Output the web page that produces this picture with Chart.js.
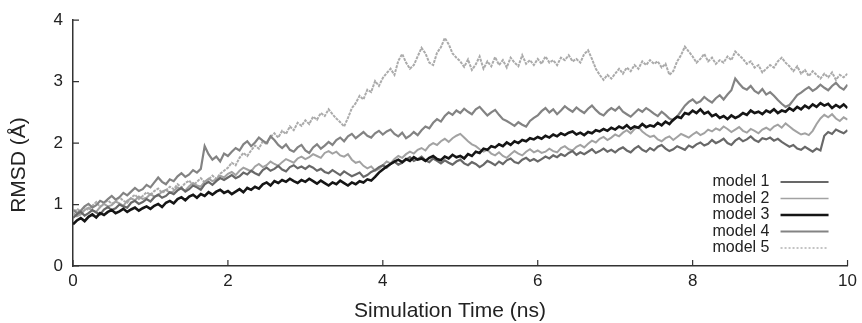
<!DOCTYPE html>
<html lang="en">
<head>
    <meta charset="UTF-8">
    <title>RMSD vs Simulation Time</title>
    <script src="https://cdn.jsdelivr.net/npm/chart.js"></script>
    <style>
        body {
            margin: 0;
            background: #fff;
        }
        .chart-box {
            width: 862px;
            height: 323px;
        }
    </style>
</head>
<body>
    <div class="chart-box">
        <canvas id="rmsdChart" width="862" height="323"></canvas>
    </div>
    <script>
        // sampling grid: every 0.05 ns from 0 to 10 ns
        const times = Array.from({ length: 201 }, (_, i) => +(i * 0.05).toFixed(2));
        const xTicks = [0, 2, 4, 6, 8, 10];
        const yTicks = [0, 1, 2, 3, 4];
        const modelNames = ['model 1', 'model 2', 'model 3', 'model 4', 'model 5'];

        // values (RMSD in Å), one row per ns
        const model1 = [
            0.78, 0.84, 0.88, 0.82, 0.86, 0.91, 0.87, 0.84, 0.92, 0.96, 0.91, 0.94, 1.00, 0.97, 0.95, 1.03, 1.06, 1.01, 1.04, 1.09,
            1.05, 1.12, 1.16, 1.11, 1.14, 1.20, 1.17, 1.23, 1.27, 1.21, 1.25, 1.31, 1.28, 1.24, 1.33, 1.37, 1.32, 1.38, 1.43, 1.40,
            1.44, 1.48, 1.43, 1.46, 1.52, 1.49, 1.55, 1.51, 1.48, 1.56, 1.60, 1.55, 1.58, 1.63, 1.57, 1.54, 1.61, 1.64, 1.59, 1.62,
            1.58, 1.63, 1.60, 1.55, 1.58, 1.53, 1.51, 1.56, 1.52, 1.48, 1.54, 1.50, 1.46, 1.49, 1.52, 1.45, 1.48, 1.53, 1.56, 1.61,
            1.64, 1.60, 1.66, 1.70, 1.65, 1.68, 1.73, 1.77, 1.71, 1.74, 1.78, 1.72, 1.69, 1.75, 1.71, 1.67, 1.72, 1.68, 1.65, 1.70,
            1.73, 1.67, 1.64, 1.69, 1.66, 1.61, 1.65, 1.71, 1.68, 1.64, 1.70, 1.66, 1.72, 1.75, 1.69, 1.67, 1.73, 1.76, 1.71, 1.74,
            1.70, 1.74, 1.78, 1.75, 1.80, 1.77, 1.82, 1.79, 1.84, 1.87, 1.81, 1.85, 1.82, 1.86, 1.90, 1.84, 1.87, 1.91, 1.86, 1.89,
            1.85, 1.90, 1.93, 1.88, 1.85, 1.91, 1.95, 1.89, 1.86, 1.92, 1.88, 1.94, 1.97, 1.91, 1.87, 1.90, 1.95, 1.92, 1.89, 1.96,
            1.93, 1.98, 2.01, 1.96, 1.99, 2.05, 2.00, 2.03, 2.07, 2.00, 1.97, 2.04, 2.08, 2.03, 2.06, 2.11, 2.05, 2.02, 2.08, 2.06,
            2.09, 2.04, 2.07, 2.02, 1.98, 1.94, 1.97, 1.91, 1.89, 1.94, 1.90, 1.86, 1.91, 1.88, 2.12, 2.18, 2.15, 2.22, 2.19, 2.16, 2.21
        ];
        const model2 = [
            0.86, 0.81, 0.84, 0.91, 0.95, 0.90, 0.88, 0.96, 1.01, 0.97, 0.99, 1.05, 1.02, 0.98, 1.06, 1.10, 1.07, 1.13, 1.09, 1.11,
            1.17, 1.13, 1.15, 1.21, 1.24, 1.19, 1.22, 1.28, 1.25, 1.23, 1.30, 1.35, 1.31, 1.29, 1.37, 1.42, 1.38, 1.41, 1.47, 1.44,
            1.50, 1.53, 1.48, 1.55, 1.60, 1.57, 1.54, 1.62, 1.66, 1.61, 1.64, 1.70, 1.66, 1.63, 1.69, 1.74, 1.71, 1.68, 1.75, 1.78,
            1.74, 1.77, 1.82, 1.79, 1.76, 1.84, 1.87, 1.83, 1.86, 1.80, 1.78, 1.82, 1.73, 1.68, 1.70, 1.63, 1.59, 1.62, 1.55, 1.58,
            1.64, 1.70, 1.67, 1.74, 1.79, 1.76, 1.82, 1.86, 1.83, 1.89, 1.92, 1.88, 1.96, 2.00, 1.97, 2.03, 2.07, 2.02, 2.08, 2.12,
            2.15, 2.09, 2.03, 1.98, 1.95, 1.90, 1.86, 1.89, 1.83, 1.80, 1.85, 1.79, 1.76, 1.82, 1.87, 1.83, 1.80, 1.86, 1.90, 1.85,
            1.88, 1.84, 1.86, 1.91, 1.87, 1.85, 1.92, 1.95, 1.90, 1.88, 1.94, 1.97, 1.93, 1.99, 2.04, 2.01, 2.07, 2.10, 2.05, 2.09,
            2.14, 2.11, 2.17, 2.21, 2.16, 2.23, 2.26, 2.19, 2.14, 2.10, 2.12, 2.06, 2.03, 2.08, 2.11, 2.05, 2.10, 2.15, 2.12, 2.09,
            2.14, 2.18, 2.13, 2.16, 2.22, 2.19, 2.24, 2.21, 2.27, 2.23, 2.18, 2.22, 2.26, 2.20, 2.17, 2.23, 2.20, 2.16, 2.22, 2.25,
            2.21, 2.27, 2.30, 2.25, 2.32, 2.27, 2.22, 2.18, 2.14, 2.16, 2.13, 2.20, 2.31, 2.40, 2.46, 2.42, 2.47, 2.40, 2.36, 2.42, 2.38
        ];
        const model3 = [
            0.68, 0.74, 0.78, 0.73, 0.80, 0.84, 0.79, 0.86, 0.83, 0.88, 0.91, 0.86, 0.89, 0.93, 0.88, 0.92, 0.95, 0.90, 0.94, 0.97,
            0.93, 0.98, 1.01, 0.96, 1.03, 1.06, 1.02, 1.09, 1.12, 1.07, 1.13, 1.16, 1.11, 1.17, 1.14, 1.20, 1.16, 1.21, 1.24, 1.19,
            1.22, 1.17, 1.21, 1.25, 1.20, 1.27, 1.24, 1.29, 1.26, 1.33, 1.36, 1.31, 1.38, 1.35, 1.40, 1.37, 1.42, 1.38, 1.35, 1.40,
            1.37, 1.42, 1.38, 1.34, 1.39, 1.35, 1.31, 1.36, 1.33, 1.39, 1.35, 1.31, 1.36, 1.33, 1.38, 1.36, 1.41, 1.39, 1.45, 1.52,
            1.57, 1.62, 1.66, 1.70, 1.73, 1.69, 1.74, 1.71, 1.77, 1.73, 1.75, 1.71, 1.76, 1.79, 1.74, 1.72, 1.78, 1.75, 1.81, 1.77,
            1.79, 1.75, 1.82, 1.79, 1.86, 1.84, 1.91, 1.89, 1.95, 1.93, 1.98, 1.95, 2.01, 1.97, 2.03, 2.00, 2.05, 2.03, 2.08, 2.06,
            2.10, 2.07, 2.12, 2.09, 2.14, 2.11, 2.16, 2.13, 2.17, 2.19, 2.14, 2.17, 2.13, 2.18, 2.16, 2.21, 2.19, 2.23, 2.20, 2.25,
            2.22, 2.27, 2.24, 2.29, 2.23, 2.27, 2.25, 2.31, 2.26, 2.29, 2.27, 2.33, 2.29, 2.35, 2.31, 2.38, 2.43, 2.41, 2.49, 2.47,
            2.53, 2.49, 2.55, 2.48, 2.51, 2.44, 2.47, 2.41, 2.44, 2.39, 2.45, 2.41, 2.44, 2.49, 2.46, 2.53, 2.49, 2.51, 2.47, 2.53,
            2.50, 2.55, 2.49, 2.53, 2.51, 2.57, 2.53, 2.59, 2.55, 2.61, 2.57, 2.63, 2.59, 2.65, 2.61, 2.64, 2.57, 2.62, 2.58, 2.63, 2.57
        ];
        const model4 = [
            0.92, 0.86, 0.90, 0.97, 1.01, 0.95, 0.99, 1.06, 1.03, 1.09, 1.14, 1.08, 1.12, 1.19, 1.15, 1.21, 1.27, 1.22, 1.25, 1.32,
            1.28, 1.36, 1.44, 1.37, 1.33, 1.41, 1.38, 1.46, 1.51, 1.45, 1.49, 1.56, 1.52, 1.58, 1.95, 1.82, 1.73, 1.78, 1.70, 1.83,
            1.79, 1.86, 1.92, 1.88, 1.98, 2.03, 1.95, 2.01, 2.09, 2.04, 2.00, 2.11, 2.05, 1.97, 1.92, 1.98, 1.89, 1.86, 1.93, 1.97,
            1.88, 1.84, 1.93, 1.98, 1.91, 1.96, 2.02, 1.97, 2.05, 2.09, 2.03, 2.11, 2.15, 2.08, 2.13, 2.18, 2.12, 2.09, 2.16, 2.20,
            2.14, 2.19, 2.22, 2.15, 2.11, 2.17, 2.08, 2.12, 2.18, 2.13, 2.21, 2.27, 2.24, 2.33, 2.39, 2.35, 2.44, 2.50, 2.46, 2.53,
            2.49, 2.56, 2.51, 2.47, 2.55, 2.59, 2.52, 2.45, 2.50, 2.54, 2.46, 2.39, 2.36, 2.32, 2.28, 2.34, 2.30, 2.27, 2.36, 2.41,
            2.45, 2.52, 2.57, 2.50, 2.55, 2.47, 2.53, 2.60, 2.55, 2.51, 2.58, 2.53, 2.49, 2.56, 2.61, 2.54, 2.48, 2.45, 2.52, 2.57,
            2.53, 2.59, 2.51, 2.47, 2.43, 2.49, 2.55, 2.51, 2.57, 2.53, 2.48, 2.44, 2.51, 2.46, 2.40, 2.37, 2.43, 2.52, 2.61, 2.67,
            2.71, 2.65, 2.68, 2.75, 2.70, 2.66, 2.73, 2.78, 2.71, 2.79, 2.86, 3.05, 2.97, 2.90, 2.87, 2.93, 2.85, 2.81, 2.88, 2.79,
            2.83, 2.77, 2.70, 2.64, 2.59, 2.62, 2.70, 2.78, 2.82, 2.87, 2.91, 2.85, 2.89, 2.95, 2.90, 2.86, 2.93, 2.98, 2.91, 2.87, 2.95
        ];
        const model5 = [
            0.82, 0.93, 0.89, 0.96, 0.91, 0.98, 1.04, 0.96, 1.02, 1.07, 1.01, 1.05, 1.12, 1.06, 1.03, 1.11, 1.16, 1.09, 1.14, 1.20,
            1.16, 1.22, 1.26, 1.19, 1.23, 1.29, 1.25, 1.33, 1.28, 1.35, 1.39, 1.31, 1.37, 1.43, 1.36, 1.41, 1.47, 1.42, 1.50, 1.55,
            1.60, 1.68, 1.64, 1.76, 1.84, 1.79, 1.88, 1.96, 1.91, 2.03, 1.98, 2.10, 2.16, 2.09, 2.20, 2.15, 2.27, 2.21, 2.33, 2.28,
            2.37, 2.31, 2.43, 2.38, 2.49, 2.44, 2.55, 2.47, 2.40, 2.34, 2.27, 2.41, 2.57, 2.65, 2.77, 2.71, 2.87, 2.83, 3.01, 2.93,
            3.06, 3.14, 3.21, 3.11, 3.34, 3.45, 3.31, 3.21, 3.27, 3.41, 3.55, 3.46, 3.31, 3.27, 3.47, 3.56, 3.71, 3.61, 3.46, 3.39,
            3.33, 3.24, 3.36, 3.19, 3.28, 3.41, 3.21, 3.33, 3.25, 3.40, 3.27, 3.35, 3.23, 3.39, 3.31, 3.25, 3.43, 3.29, 3.35, 3.27,
            3.37, 3.29, 3.41, 3.31, 3.35, 3.27, 3.39, 3.35, 3.43, 3.33, 3.37, 3.31, 3.45, 3.51, 3.37, 3.21, 3.11, 3.03, 3.11, 3.05,
            3.13, 3.21, 3.13, 3.23, 3.17, 3.27, 3.21, 3.33, 3.27, 3.35, 3.29, 3.33, 3.23, 3.29, 3.11, 3.17, 3.33, 3.43, 3.57, 3.49,
            3.41, 3.31, 3.37, 3.45, 3.33, 3.39, 3.29, 3.35, 3.31, 3.41, 3.35, 3.49, 3.43, 3.37, 3.29, 3.33, 3.23, 3.27, 3.15, 3.21,
            3.27, 3.23, 3.33, 3.39, 3.31, 3.25, 3.17, 3.25, 3.13, 3.19, 3.09, 3.17, 3.11, 3.05, 3.13, 3.07, 3.15, 3.03, 3.11, 3.07, 3.13
        ];

        const seriesValues = [model1, model2, model3, model4, model5];
        const lineColors = ['#686868', '#a2a2a2', '#151515', '#838383', '#ababab'];
        const lineWidths = [2.2, 2, 2.6, 2.2, 2];
        const lineDashes = [[], [], [], [], [3, 1]];
        const legendDashes = [[], [], [], [], [2, 2]];
        const legendWidths = [2, 1.6, 2.6, 2, 1.4];

        const datasets = seriesValues.map((vals, i) => ({
            label: modelNames[i],
            data: times.map((t, k) => ({ x: t, y: vals[k] })),
            borderColor: lineColors[i],
            borderWidth: lineWidths[i],
            borderDash: lineDashes[i],
            pointRadius: 0,
            tension: 0,
            fill: false,
            order: i === 2 ? 0 : 1
        }));

        // small tick marks pointing into the plot, like the original figure
        const innerTicks = {
            id: 'innerTicks',
            afterDraw(chart) {
                const { ctx, chartArea: a, scales: { x, y } } = chart;
                ctx.save();
                ctx.strokeStyle = '#333';
                ctx.lineWidth = 1.2;
                ctx.beginPath();
                xTicks.forEach(v => {
                    const px = x.getPixelForValue(v);
                    ctx.moveTo(px, a.bottom);
                    ctx.lineTo(px, a.bottom - 6);
                });
                yTicks.forEach(v => {
                    const py = y.getPixelForValue(v);
                    ctx.moveTo(a.left, py);
                    ctx.lineTo(a.left + 6, py);
                });
                ctx.stroke();
                ctx.restore();
            }
        };

        // axis titles placed where the original has them (not centred on the plot)
        const axisTitles = {
            id: 'axisTitles',
            afterDraw(chart) {
                const { ctx } = chart;
                ctx.save();
                ctx.font = '21px "Liberation Sans", Arial, sans-serif';
                ctx.fillStyle = '#222';
                ctx.textAlign = 'center';
                ctx.textBaseline = 'middle';
                ctx.fillText('Simulation Time (ns)', 450, 311);
                ctx.translate(19, 165);
                ctx.rotate(-Math.PI / 2);
                ctx.fillText('RMSD (Å)', 0, 0);
                ctx.restore();
            }
        };

        // legend inside the plot, text first and line sample after it
        const modelLegend = {
            id: 'modelLegend',
            afterDatasetsDraw(chart) {
                const { ctx, chartArea: a } = chart;
                ctx.save();
                ctx.font = '16px "Liberation Sans", Arial, sans-serif';
                ctx.fillStyle = '#222';
                ctx.textBaseline = 'middle';
                modelNames.forEach((name, i) => {
                    const yy = a.bottom - 84 + i * 16.5;
                    ctx.fillText(name, a.right - 135, yy);
                    ctx.strokeStyle = lineColors[i];
                    ctx.lineWidth = legendWidths[i];
                    ctx.setLineDash(legendDashes[i]);
                    ctx.beginPath();
                    ctx.moveTo(a.right - 67, yy);
                    ctx.lineTo(a.right - 19, yy);
                    ctx.stroke();
                });
                ctx.restore();
            }
        };

        Chart.defaults.font.family = '"Liberation Sans", Arial, sans-serif';
        Chart.defaults.color = '#222';

        const ctx = document.getElementById('rmsdChart').getContext('2d');
        new Chart(ctx, {
            type: 'line',
            data: { datasets: datasets },
            options: {
                responsive: false,
                animation: false,
                devicePixelRatio: 1,
                layout: { padding: { top: 20, right: 10, left: 0, bottom: 0 } },
                plugins: {
                    legend: { display: false },
                    tooltip: { enabled: false }
                },
                scales: {
                    x: {
                        type: 'linear',
                        min: 0,
                        max: 10,
                        afterFit: s => { s.height = 57; },
                        ticks: { stepSize: 2, font: { size: 17 }, padding: 5, maxRotation: 0 },
                        grid: { drawOnChartArea: false, drawTicks: false },
                        border: { color: '#333', width: 1.5 }
                    },
                    y: {
                        min: 0,
                        max: 4,
                        afterFit: s => { s.width = 73; },
                        ticks: { stepSize: 1, font: { size: 17 }, padding: 10 },
                        grid: { drawOnChartArea: false, drawTicks: false },
                        border: { color: '#333', width: 1.5 }
                    }
                }
            },
            plugins: [innerTicks, axisTitles, modelLegend]
        });
    </script>
</body>
</html>
